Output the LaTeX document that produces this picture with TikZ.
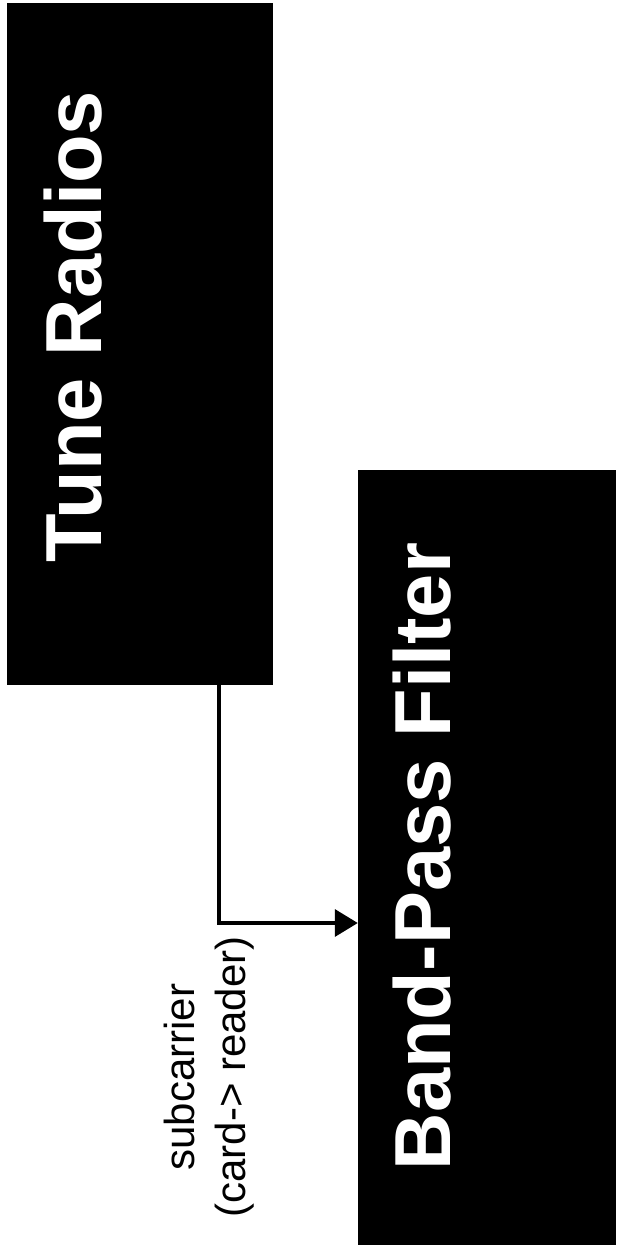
\documentclass[tikz,border=0pt]{standalone}
\usepackage{fontspec}
\setmainfont{Liberation Sans}
\usetikzlibrary{arrows.meta,positioning}

\tikzset{blockbox/.style={fill=black,draw=none,inner sep=0pt,rectangle}}
\tikzset{blocktext/.style={text=white,font=\fontsize{79.5}{95}\selectfont\bfseries,rotate=90,anchor=base,inner sep=0pt}}
\tikzset{flow/.style={line width=3.5pt,-{Triangle[length=23pt,width=27pt]}}}
\tikzset{flowlabel/.style={font=\fontsize{42}{51}\selectfont,rotate=90,align=center,inner sep=0pt}}

\begin{document}
\begin{tikzpicture}[x=1pt,y=1pt]
        \useasboundingbox (0,0) rectangle (616,-1245);
        \fill[white] (0,0) rectangle (616,-1245);
        \node[blockbox,minimum width=266pt,minimum height=682pt] (tune) at (140,-344) {};
        \node[blockbox,minimum width=258pt,minimum height=775pt] (filter) at (487,-857.5) {};
        \node[blocktext] (tunetext) at (101,-326.5) {Tune Radios};
        \node[blocktext] (filtertext) at (450,-856.5) {Band-Pass Filter};
        \draw[flow] ([xshift=79pt]tune.south) |- ([yshift=-65.5pt]filter.west);
        \node[flowlabel] (sublabel) at (209.5,-1077) {subcarrier\\(card-> reader)};
    \end{tikzpicture}
\end{document}
